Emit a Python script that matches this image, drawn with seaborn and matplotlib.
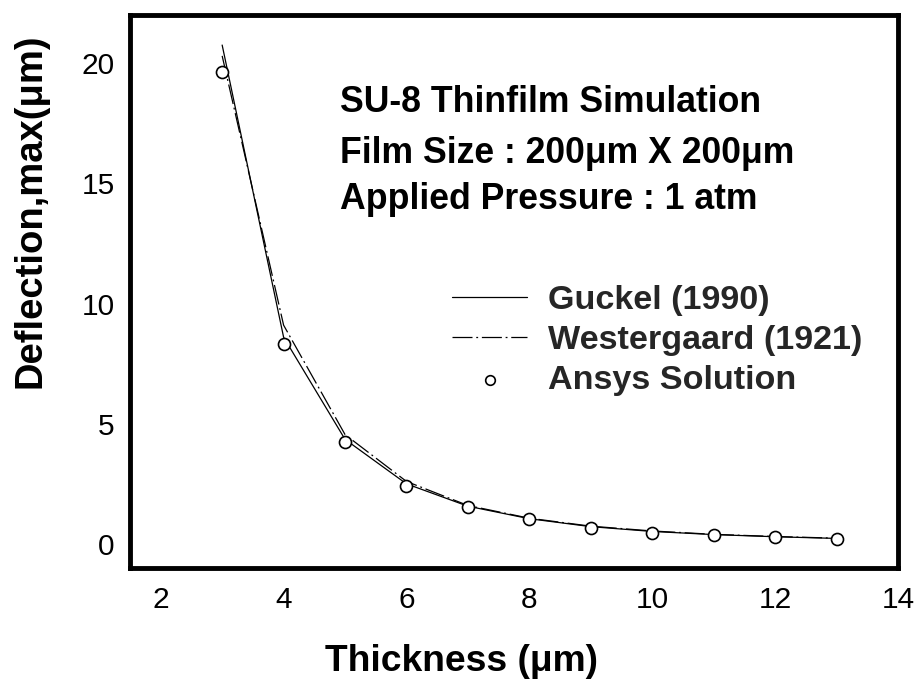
import matplotlib
matplotlib.use("Agg")
import matplotlib.pyplot as plt
import seaborn as sns
import pandas as pd

# Film thickness (um) and maximum deflection (um)
thickness = [3, 4, 5, 6, 7, 8, 9, 10, 11, 12, 13]
guckel = [20.75, 8.6, 4.35, 2.5, 1.57, 1.05, 0.72, 0.52, 0.39, 0.30, 0.23]
westergaard = [20.3, 9.1, 4.55, 2.6, 1.6, 1.07, 0.74, 0.54, 0.40, 0.31, 0.24]
ansys = [19.65, 8.3, 4.23, 2.42, 1.54, 1.02, 0.67, 0.47, 0.36, 0.28, 0.19]

labels = ["Guckel (1990)", "Westergaard (1921)", "Ansys Solution"]
x_ticks = [2, 4, 6, 8, 10, 12, 14]
y_ticks = [0, 5, 10, 15, 20]

sns.set_theme(style="white")
plt.rcParams["font.family"] = ["Liberation Sans", "DejaVu Sans"]

df = pd.DataFrame({"t": thickness, "g": guckel, "w": westergaard, "a": ansys})

fig = plt.figure(figsize=(9.15, 6.99), dpi=100)
ax = fig.add_axes([130 / 915, 1 - 568 / 699, 768 / 915, 553 / 699])

sns.lineplot(data=df, x="t", y="g", ax=ax, color="black", lw=0.9,
             label=labels[0], zorder=2)
sns.lineplot(data=df, x="t", y="w", ax=ax, color="black", lw=0.9,
             linestyle=(0, (16, 3, 1.5, 3)), label=labels[1], zorder=2)
sns.scatterplot(data=df, x="t", y="a", ax=ax, marker="o", s=75,
                facecolor="white", edgecolor="black", linewidth=1.2,
                label=labels[2], zorder=3)

ax.set_xlim(1.5, 14)
ax.set_ylim(-1, 22)
ax.set_xticks(x_ticks)
ax.set_yticks(y_ticks)

for s in ax.spines.values():
    s.set_linewidth(3.5)
    s.set_color("black")
ax.tick_params(axis="both", direction="in", length=7, width=3, color="black",
               labelsize=21.5, labelcolor="black")
ax.tick_params(axis="x", pad=13)
ax.tick_params(axis="y", pad=11)

ax.set_xlabel("Thickness (μm)", fontsize=26.8, fontweight="bold", color="black")
ax.set_ylabel("Deflection,max(μm)", fontsize=27.5, fontweight="bold", color="black")
ax.xaxis.set_label_coords(0.432, -0.138)
ax.yaxis.set_label_coords(-0.106, 0.646)

info = ["SU-8 Thinfilm Simulation",
        "Film Size : 200μm X 200μm",
        "Applied Pressure : 1 atm"]
for line, yy in zip(info, [0.825, 0.732, 0.650]):
    ax.text(0.273, yy, line, transform=ax.transAxes, fontsize=25.7,
            fontweight="bold", va="baseline", ha="left", color="black")

leg = ax.legend(loc="upper left", bbox_to_anchor=((452 - 130) / 768, (568 - 285) / 553),
                frameon=False, fontsize=24.6, handlelength=2.2, handletextpad=0.6,
                labelspacing=0.26, markerscale=0.8, borderpad=0, borderaxespad=0)
for t in leg.get_texts():
    t.set_fontweight("bold")

fig.savefig("out.png", dpi=100, facecolor="white")
